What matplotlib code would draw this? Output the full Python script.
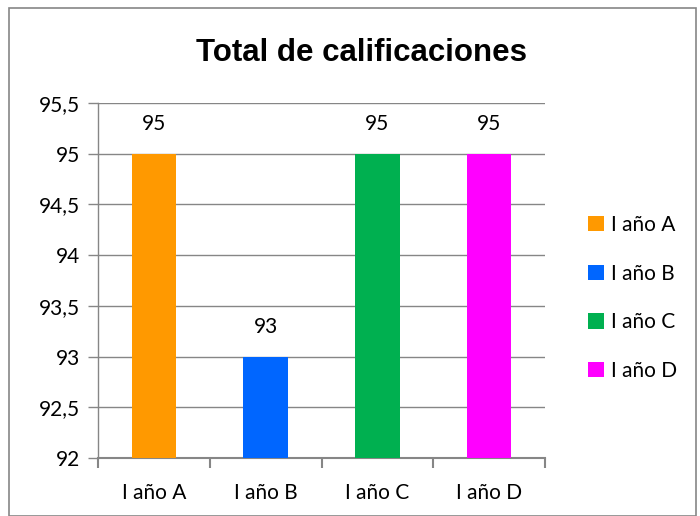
import matplotlib
matplotlib.use("Agg")
import matplotlib.pyplot as plt
from matplotlib.patches import Rectangle, Patch

categories = ["I año A", "I año B", "I año C", "I año D"]
values = [95, 93, 95, 95]
colors = ["#FF9900", "#0066FF", "#00B050", "#FF00FF"]
yticks = [92, 92.5, 93, 93.5, 94, 94.5, 95, 95.5]
ytick_labels = ["92", "92,5", "93", "93,5", "94", "94,5", "95", "95,5"]

plt.rcParams['font.family'] = ['Lato', 'DejaVu Sans']

fig = plt.figure(figsize=(7, 5.16), dpi=100)
ax = fig.add_axes([98/700, 1-458/516, (545-98)/700, (458-103)/516])

x = list(range(len(categories)))
bars = ax.bar(x, values, width=0.4, color=colors, zorder=3)
ax.set_ylim(92, 95.5)
ax.set_xlim(-0.5, len(categories) - 0.5)
ax.set_yticks(yticks)
ax.set_yticklabels(ytick_labels, fontsize=15)
ax.set_xticks(x)
ax.set_xticklabels(categories, fontsize=15)
ax.tick_params(axis='x', length=0, pad=18)
ax.set_xticks([-0.5, 0.5, 1.5, 2.5, 3.5], minor=True)
ax.tick_params(axis='x', which='minor', length=7, color='#868686', width=1.5)
ax.tick_params(axis='y', length=7, color='#868686', width=1, pad=6)
ax.yaxis.grid(True, color='#868686', linewidth=1, zorder=0)
for s in ['top', 'right']:
    ax.spines[s].set_visible(False)
for s in ['left', 'bottom']:
    ax.spines[s].set_color('#868686')
ax.spines['left'].set_linewidth(1)
ax.spines['bottom'].set_linewidth(1.5)

for xi, v in zip(x, values):
    ax.annotate(str(v), (xi, v), xytext=(0, 14), textcoords='offset points',
                ha='center', va='bottom', fontsize=15)

fig.text(361/700, 1-53/516, "Total de calificaciones", ha='center', va='center',
         fontsize=22.5, fontweight='bold', family=['Liberation Sans', 'DejaVu Sans'])

handles = [Patch(facecolor=c, edgecolor='none') for c in colors]
leg = fig.legend(handles, categories, loc='center left', bbox_to_anchor=(588/700, 1-298/516),
                 frameon=False, fontsize=15, handlelength=0.75, handleheight=0.75,
                 handletextpad=0.35, labelspacing=1.38, borderaxespad=0, borderpad=0)

fig.patches.append(Rectangle((9/700, 0.0), 687/700, 1-8/516, transform=fig.transFigure,
                             fill=False, edgecolor='#868686', linewidth=1.2))

fig.savefig("out.png", dpi=100)
